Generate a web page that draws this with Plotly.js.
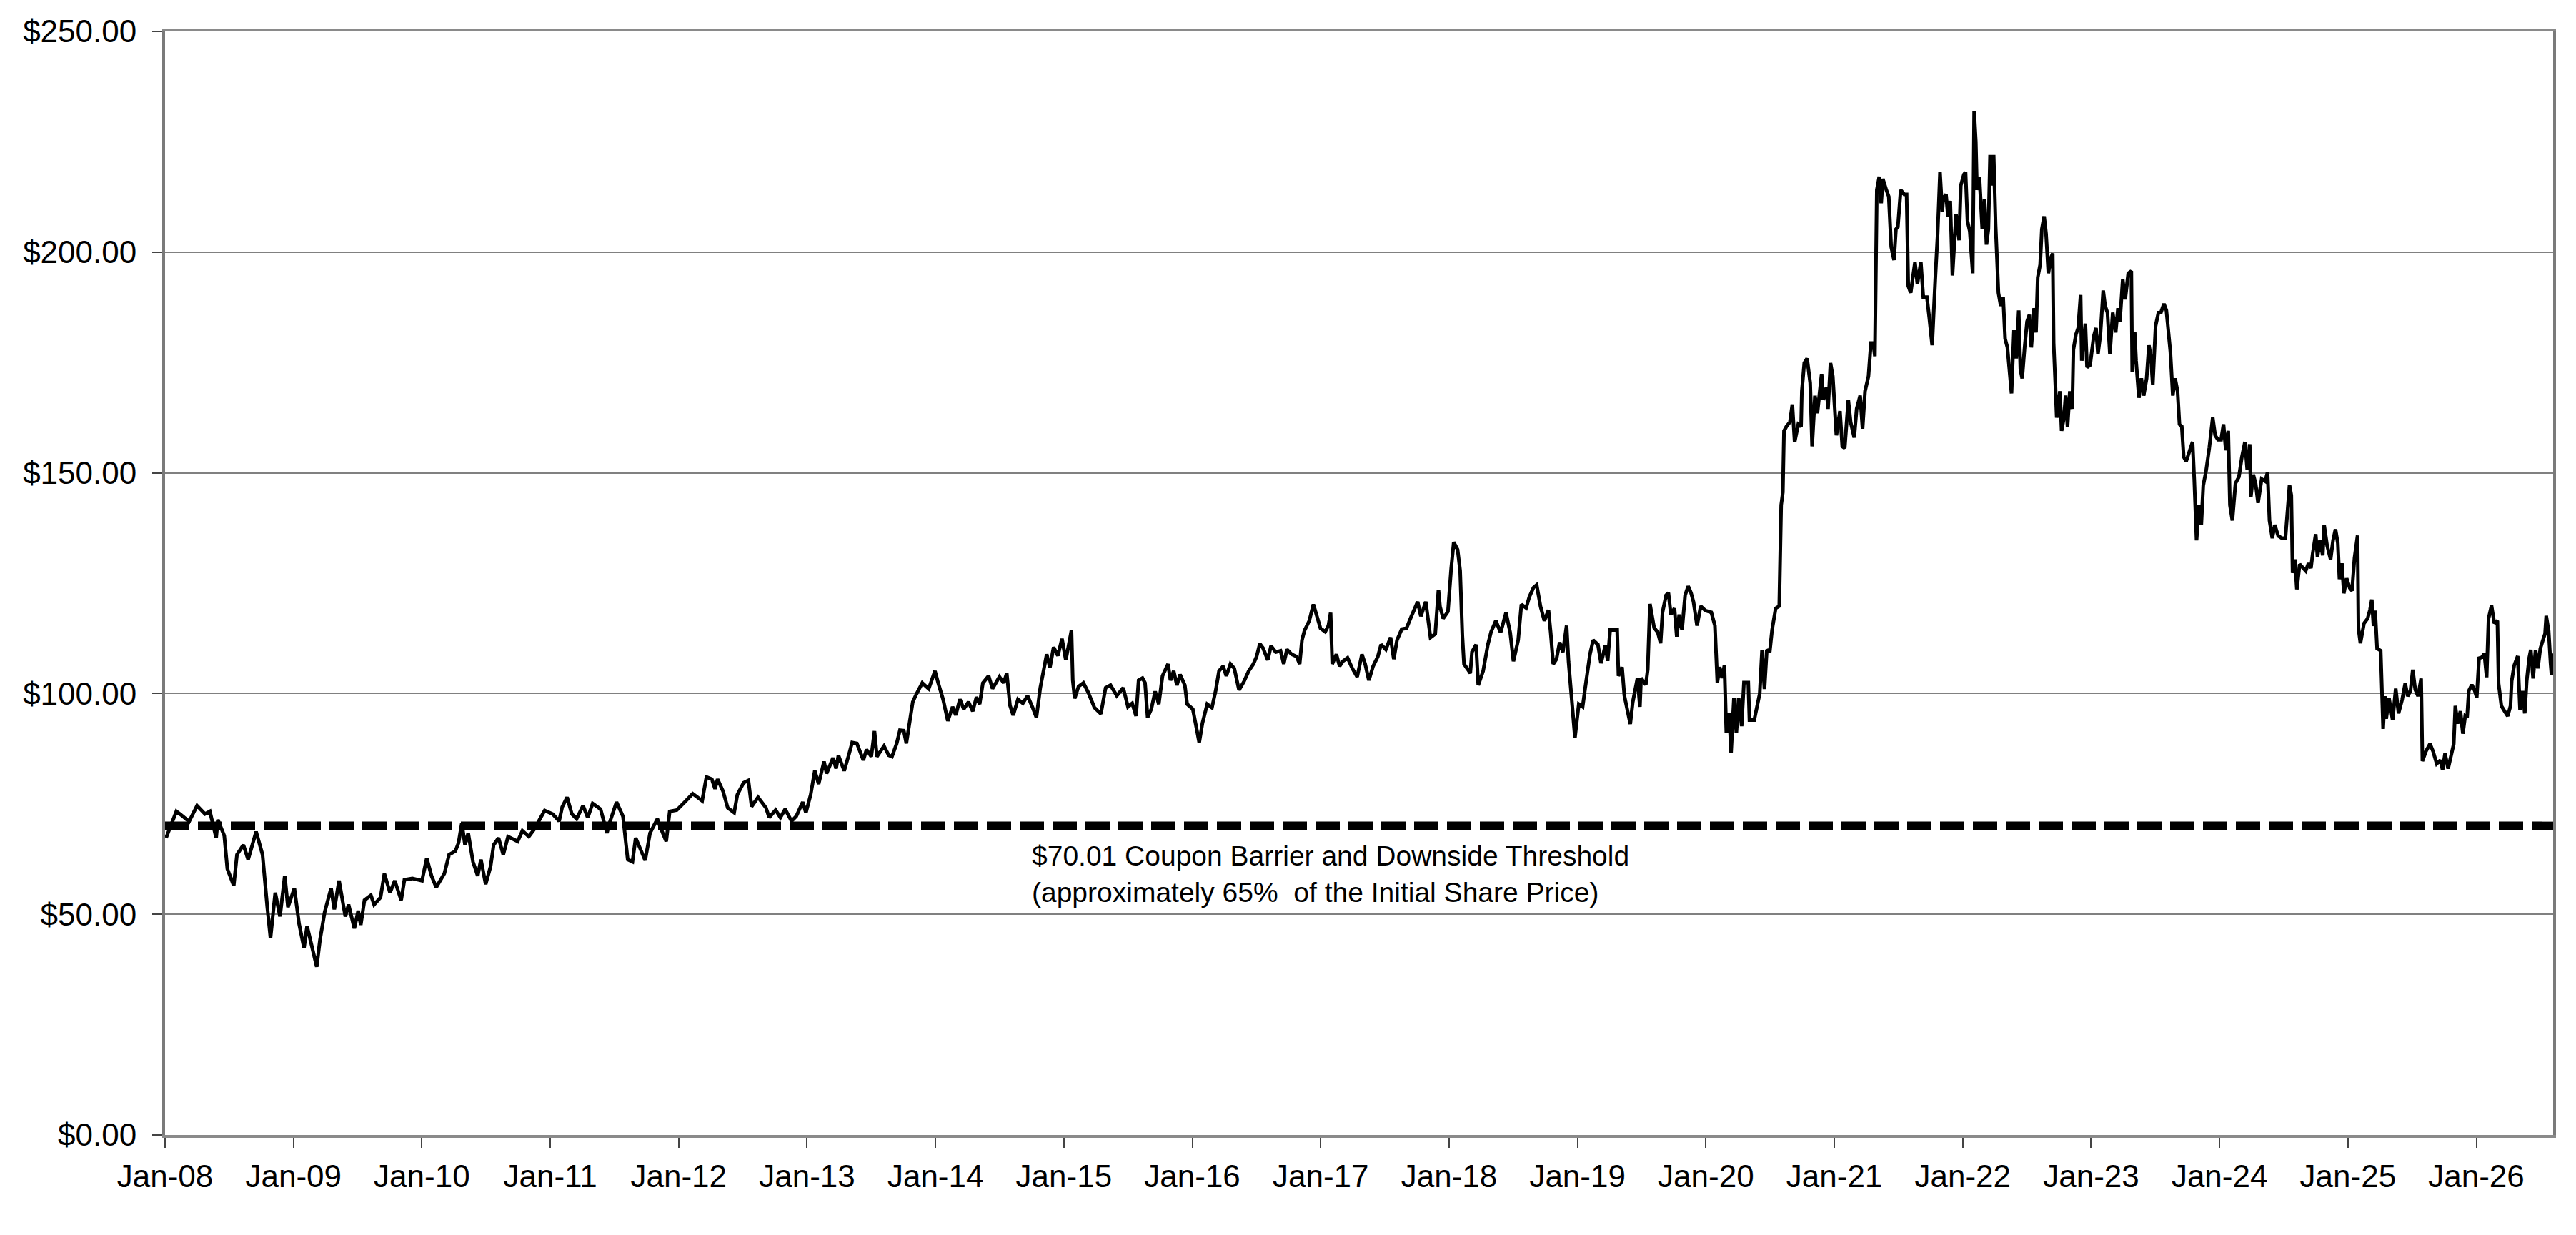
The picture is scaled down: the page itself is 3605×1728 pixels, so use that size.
<!DOCTYPE html>
<html>
<head>
<meta charset="utf-8">
<script src="https://cdn.plot.ly/plotly-3.0.1.min.js"></script>
<style>
    body { margin: 0; background: #ffffff; }
</style>
</head>
<body>
<div id="grafico"></div>
<script>
// Fechas (en años decimales)
let fechas = [
    2008.008, 2008.038, 2008.088, 2008.138, 2008.187, 2008.249, 2008.311, 2008.349, 2008.398, 2008.411,
    2008.461, 2008.485, 2008.535, 2008.560, 2008.610, 2008.647, 2008.709, 2008.759, 2008.771, 2008.796,
    2008.821, 2008.858, 2008.895, 2008.932, 2008.957, 2009.007, 2009.044, 2009.082, 2009.106, 2009.156,
    2009.181, 2009.206, 2009.243, 2009.293, 2009.318, 2009.355, 2009.404, 2009.429, 2009.474, 2009.504,
    2009.524, 2009.553, 2009.603, 2009.628, 2009.678, 2009.708, 2009.752, 2009.789, 2009.839, 2009.864,
    2009.926, 2010.001, 2010.038, 2010.075, 2010.112, 2010.175, 2010.212, 2010.261, 2010.286, 2010.311,
    2010.336, 2010.361, 2010.398, 2010.435, 2010.460, 2010.497, 2010.535, 2010.559, 2010.597, 2010.634,
    2010.671, 2010.746, 2010.783, 2010.833, 2010.882, 2010.920, 2010.957, 2011.019, 2011.069, 2011.093,
    2011.131, 2011.168, 2011.205, 2011.255, 2011.292, 2011.330, 2011.392, 2011.441, 2011.466, 2011.516,
    2011.566, 2011.603, 2011.640, 2011.665, 2011.702, 2011.739, 2011.777, 2011.834,
    2011.860, 2011.903, 2011.930, 2011.985, 2012.047, 2012.109, 2012.146, 2012.183, 2012.216, 2012.258,
    2012.283, 2012.303, 2012.345, 2012.382, 2012.432, 2012.457, 2012.506, 2012.543, 2012.568, 2012.618,
    2012.680, 2012.705, 2012.755, 2012.792, 2012.829, 2012.879, 2012.916, 2012.966, 2012.991, 2013.028,
    2013.060, 2013.090, 2013.132, 2013.152, 2013.202, 2013.226, 2013.244, 2013.289, 2013.326, 2013.351,
    2013.388, 2013.438, 2013.463, 2013.500, 2013.525, 2013.544, 2013.599, 2013.636, 2013.661, 2013.698,
    2013.723, 2013.753, 2013.773, 2013.798, 2013.823, 2013.848, 2013.897, 2013.947, 2013.996, 2014.021,
    2014.059, 2014.096, 2014.133, 2014.158, 2014.190, 2014.220, 2014.257, 2014.290, 2014.319, 2014.344,
    2014.369, 2014.414, 2014.444, 2014.498, 2014.531, 2014.555, 2014.580, 2014.605, 2014.642, 2014.680,
    2014.717, 2014.754, 2014.786, 2014.816, 2014.841, 2014.866, 2014.891, 2014.920, 2014.953, 2014.985,
    2015.015, 2015.035, 2015.059, 2015.069, 2015.084, 2015.114, 2015.152, 2015.189, 2015.238, 2015.288,
    2015.325, 2015.363, 2015.412, 2015.462, 2015.499,
    2015.532, 2015.562, 2015.582, 2015.612, 2015.632, 2015.652, 2015.681, 2015.711, 2015.739, 2015.768,
    2015.811, 2015.830, 2015.855, 2015.880, 2015.905, 2015.942, 2015.960, 2016.004, 2016.029, 2016.054,
    2016.079, 2016.116, 2016.153, 2016.183, 2016.208, 2016.240, 2016.265, 2016.297, 2016.327, 2016.364,
    2016.402, 2016.439, 2016.476, 2016.501, 2016.526, 2016.551, 2016.588, 2016.613, 2016.650, 2016.687,
    2016.712, 2016.737, 2016.774, 2016.812, 2016.836, 2016.854, 2016.874, 2016.911, 2016.943, 2016.968,
    2016.998, 2017.035, 2017.060, 2017.077, 2017.090, 2017.122, 2017.147, 2017.172, 2017.209, 2017.246,
    2017.284, 2017.321, 2017.346, 2017.375, 2017.408, 2017.445, 2017.470, 2017.507, 2017.544, 2017.569,
    2017.594, 2017.631, 2017.668, 2017.706, 2017.755, 2017.780, 2017.818, 2017.855, 2017.892, 2017.917,
    2017.929, 2017.954, 2017.991, 2018.016, 2018.036, 2018.066, 2018.086, 2018.103, 2018.116, 2018.140,
    2018.165, 2018.178, 2018.210, 2018.227, 2018.265, 2018.302, 2018.327, 2018.364, 2018.401, 2018.443,
    2018.476, 2018.501, 2018.538, 2018.563, 2018.600, 2018.625, 2018.657, 2018.682, 2018.712, 2018.742,
    2018.774, 2018.791, 2018.811, 2018.836, 2018.861, 2018.886, 2018.915, 2018.930, 2018.955, 2018.980,
    2019.010, 2019.040, 2019.060, 2019.097, 2019.122, 2019.159,
    2019.183, 2019.217, 2019.235, 2019.254, 2019.309, 2019.319, 2019.347, 2019.365, 2019.411, 2019.430,
    2019.467, 2019.486, 2019.495, 2019.532, 2019.547, 2019.564, 2019.597, 2019.625, 2019.647, 2019.662,
    2019.690, 2019.708, 2019.727, 2019.755, 2019.773, 2019.792, 2019.814, 2019.838, 2019.862, 2019.884,
    2019.903, 2019.931, 2019.959, 2019.996, 2020.042, 2020.070, 2020.089, 2020.107, 2020.126, 2020.144,
    2020.159, 2020.181, 2020.196, 2020.218, 2020.237, 2020.255, 2020.278, 2020.296, 2020.330, 2020.339,
    2020.376, 2020.395, 2020.419, 2020.437, 2020.456, 2020.474, 2020.497, 2020.515, 2020.543, 2020.571,
    2020.586, 2020.599, 2020.608, 2020.627, 2020.654, 2020.673, 2020.691, 2020.719, 2020.741, 2020.747,
    2020.766, 2020.788, 2020.812, 2020.827, 2020.849, 2020.868, 2020.901, 2020.914, 2020.938, 2020.951,
    2020.970, 2020.988, 2021.016, 2021.044, 2021.062, 2021.081, 2021.109, 2021.127, 2021.155, 2021.174,
    2021.201, 2021.220, 2021.239, 2021.266, 2021.285, 2021.303, 2021.316, 2021.331, 2021.350, 2021.365,
    2021.378, 2021.405, 2021.424, 2021.443, 2021.465, 2021.480, 2021.495, 2021.517, 2021.545, 2021.563,
    2021.576, 2021.595, 2021.628, 2021.647, 2021.674, 2021.693, 2021.721, 2021.739, 2021.762, 2021.786,
    2021.804, 2021.823, 2021.841,
    2021.848, 2021.870, 2021.885, 2021.903, 2021.920, 2021.935, 2021.948, 2021.972, 2021.985, 2022.009,
    2022.022, 2022.037, 2022.055, 2022.078, 2022.089, 2022.102, 2022.111, 2022.130, 2022.152, 2022.170,
    2022.185, 2022.200, 2022.213, 2022.226, 2022.241, 2022.256, 2022.278, 2022.296, 2022.315, 2022.330,
    2022.348, 2022.380, 2022.399, 2022.417, 2022.436, 2022.449, 2022.463, 2022.482, 2022.501, 2022.519,
    2022.534, 2022.556, 2022.571, 2022.584, 2022.603, 2022.616, 2022.634, 2022.649, 2022.667, 2022.686,
    2022.701, 2022.708, 2022.732, 2022.757, 2022.770, 2022.788, 2022.801, 2022.816, 2022.834, 2022.853,
    2022.862, 2022.881, 2022.899, 2022.918, 2022.927, 2022.955, 2022.968, 2022.992, 2023.020, 2023.038,
    2023.053, 2023.072, 2023.094, 2023.109, 2023.127, 2023.146, 2023.168, 2023.191, 2023.209, 2023.224,
    2023.246, 2023.265, 2023.289, 2023.313, 2023.320, 2023.339, 2023.350, 2023.372, 2023.391, 2023.409,
    2023.432, 2023.450, 2023.465, 2023.480, 2023.502, 2023.524, 2023.543, 2023.567, 2023.586, 2023.604,
    2023.617, 2023.636, 2023.654, 2023.673, 2023.688, 2023.706, 2023.721, 2023.740, 2023.762, 2023.790,
    2023.803, 2023.821, 2023.840, 2023.858, 2023.873, 2023.896, 2023.920, 2023.947, 2023.966, 2023.988,
    2024.012, 2024.031, 2024.049, 2024.068, 2024.081, 2024.100, 2024.124, 2024.151, 2024.174, 2024.198,
    2024.216, 2024.235, 2024.244, 2024.263, 2024.281, 2024.300, 2024.328, 2024.355, 2024.374, 2024.389,
    2024.411, 2024.430, 2024.457, 2024.485, 2024.513,
    2024.532, 2024.545, 2024.559, 2024.569, 2024.587, 2024.602, 2024.624, 2024.648, 2024.671, 2024.693,
    2024.712, 2024.726, 2024.749, 2024.763, 2024.782, 2024.804, 2024.815, 2024.838, 2024.865, 2024.884,
    2024.903, 2024.921, 2024.934, 2024.953, 2024.968, 2024.990, 2025.014, 2025.032, 2025.051, 2025.075,
    2025.082, 2025.097, 2025.125, 2025.153, 2025.172, 2025.186, 2025.199, 2025.212, 2025.227, 2025.255,
    2025.264, 2025.274, 2025.287, 2025.298, 2025.320, 2025.348, 2025.372, 2025.394, 2025.422, 2025.446,
    2025.465, 2025.487, 2025.505, 2025.524, 2025.546, 2025.570, 2025.580, 2025.607, 2025.639, 2025.663,
    2025.691, 2025.719, 2025.737, 2025.756, 2025.780, 2025.806, 2025.824, 2025.836, 2025.854, 2025.876,
    2025.895, 2025.913, 2025.928, 2025.941, 2025.965, 2025.988, 2026.003, 2026.021, 2026.043, 2026.062,
    2026.080, 2026.095, 2026.118, 2026.140, 2026.164, 2026.173, 2026.195, 2026.220, 2026.244, 2026.266,
    2026.275, 2026.294, 2026.322, 2026.340, 2026.359, 2026.377, 2026.392, 2026.411, 2026.424, 2026.442,
    2026.461, 2026.479, 2026.498, 2026.516, 2026.535, 2026.544, 2026.563, 2026.578, 2026.585, 2026.596
];

// Precio de cierre de la acción (USD)
let precios = [
    67.3, 69.5, 73.3, 72.2, 71.0, 74.6, 72.7, 73.3, 67.3, 71.4,
    67.8, 60.3, 56.5, 63.5, 65.7, 62.4, 68.7, 63.5, 59.2, 51.6,
    44.6, 54.9, 49.5, 58.7, 51.6, 55.9, 47.8, 42.4, 47.3, 41.3,
    38.1, 44.1, 50.5, 55.9, 51.1, 57.6, 49.5, 52.2, 46.8, 50.8,
    47.6, 53.2, 54.3, 52.2, 53.8, 59.2, 54.9, 57.6, 53.2, 57.8,
    58.1, 57.6, 62.7, 58.7, 56.1, 59.2, 63.5, 64.3, 66.2, 70.6,
    65.7, 68.4, 61.9, 58.7, 62.4, 56.8, 60.8, 65.7, 67.3, 63.5,
    67.6, 66.5, 68.9, 67.6, 69.5, 71.6, 73.5, 72.7, 71.1, 74.3,
    76.5, 72.7, 71.6, 74.6, 71.9, 75.1, 73.8, 68.4, 71.1, 75.4,
    72.2, 62.4, 61.9, 67.3, 64.6, 62.2, 68.4, 71.6,
    69.5, 66.5, 73.3, 73.6, 75.4, 77.3, 76.5, 75.7, 81.1, 80.6,
    78.4, 80.6, 77.9, 74.1, 73.0, 77.1, 79.8, 80.3, 74.4, 76.5,
    74.1, 71.9, 73.6, 71.9, 73.8, 71.1, 72.2, 75.4, 73.0, 77.1,
    82.5, 79.5, 84.6, 81.9, 85.4, 83.0, 86.0, 82.5, 86.2, 88.9,
    88.7, 84.9, 87.3, 85.7, 91.5, 85.7, 88.1, 86.0, 85.7, 88.7,
    91.7, 91.6, 88.7, 93.3, 98.1, 99.7, 102.4, 101.1, 105.1, 102.4,
    98.7, 93.8, 97.0, 95.1, 98.7, 96.5, 98.1, 96.0, 99.2, 97.6,
    102.4, 104.0, 101.1, 103.8, 102.4, 104.6, 97.3, 95.1, 98.7, 97.8,
    99.5, 97.0, 94.6, 101.3, 105.1, 108.9, 105.9, 110.5, 108.6, 112.4,
    107.6, 110.5, 114.3, 103.0, 98.9, 101.6, 102.4, 100.3, 96.8, 95.4,
    101.3, 101.9, 99.5, 101.3, 97.0,
    97.8, 94.9, 103.0, 103.5, 102.4, 94.6, 96.5, 100.5, 97.6, 104.0,
    106.7, 103.0, 105.1, 101.9, 104.3, 101.9, 97.6, 96.5, 92.7, 88.9,
    93.3, 97.6, 96.8, 100.8, 105.1, 106.2, 104.0, 106.7, 105.7, 100.8,
    102.7, 105.1, 106.7, 108.4, 111.3, 110.3, 107.6, 110.8, 109.4, 109.7,
    106.7, 110.0, 108.9, 108.4, 106.7, 112.1, 114.3, 116.5, 120.2, 117.5,
    114.8, 114.0, 115.4, 118.3, 106.7, 108.9, 106.2, 107.3, 108.1, 105.7,
    103.8, 108.9, 106.7, 103.0, 106.2, 108.4, 111.1, 110.0, 112.7, 107.8,
    112.1, 114.6, 114.8, 117.5, 120.8, 117.5, 120.8, 112.7, 113.5, 123.5,
    119.7, 117.0, 118.6, 128.3, 134.3, 132.6, 127.8, 113.2, 106.7, 105.7,
    104.6, 109.4, 111.1, 101.9, 105.1, 111.1, 114.0, 116.5, 113.8, 118.3,
    113.8, 107.3, 112.1, 120.2, 119.4, 121.9, 124.0, 124.6, 119.7, 116.5,
    118.9, 113.8, 106.7, 107.8, 111.6, 109.4, 115.4, 107.3, 98.1, 90.0,
    97.6, 97.0, 101.3, 108.9, 112.1, 111.1,
    106.9, 110.9, 107.4, 114.4, 114.4, 104.0, 106.0, 99.5, 93.1, 98.0,
    103.5, 97.0, 103.5, 102.0, 105.5, 120.3, 114.9, 113.9, 111.4, 118.4,
    122.3, 122.8, 117.9, 119.3, 112.9, 117.9, 114.4, 122.3, 124.3, 122.8,
    120.8, 115.4, 119.8, 118.8, 118.4, 115.4, 102.5, 106.0, 103.5, 106.4,
    91.1, 95.5, 86.6, 99.0, 91.1, 99.0, 92.6, 102.5, 102.5, 94.0,
    94.0, 97.0, 100.0, 109.9, 101.0, 109.9, 109.4, 114.4, 119.3, 119.8,
    142.7, 145.6, 159.5, 160.5, 161.5, 165.5, 157.0, 161.0, 160.5, 168.5,
    174.9, 175.9, 170.4, 156.0, 167.5, 163.5, 172.4, 166.5, 169.4, 164.5,
    174.9, 171.9, 158.5, 164.0, 156.0, 155.6, 166.5, 161.5, 158.0, 164.5,
    167.5, 160.0, 168.5, 171.9, 179.4, 179.4, 176.4, 214.1, 217.1, 211.1,
    216.6, 214.1, 212.6, 201.2, 198.2, 205.2, 205.7, 214.1, 213.1, 213.1,
    192.3, 190.8, 197.7, 192.8, 197.7, 189.8, 189.8, 185.3, 178.9, 193.8,
    203.7, 218.1, 209.1,
    212.1, 213.1, 208.1, 211.6, 194.7, 203.2, 208.6, 202.7, 215.1, 217.6,
    218.1, 207.1, 204.7, 195.2, 231.9, 225.0, 214.1, 217.1, 205.2, 212.1,
    201.7, 205.2, 222.0, 215.1, 222.0, 206.2, 190.8, 187.8, 189.8, 180.4,
    178.4, 168.0, 182.3, 175.9, 186.8, 173.4, 171.4, 178.4, 184.3, 185.8,
    178.4, 187.3, 181.8, 194.2, 197.2, 205.2, 208.1, 204.2, 195.2, 198.7,
    199.7, 179.4, 162.5, 168.5, 159.5, 162.5, 167.5, 160.5, 168.5, 164.5,
    177.9, 181.3, 182.8, 190.3, 175.4, 183.8, 173.9, 174.4, 180.9, 182.8,
    176.9, 181.3, 191.3, 187.8, 186.3, 176.9, 186.3, 181.8, 187.3, 184.3,
    193.8, 189.3, 195.2, 195.7, 172.9, 181.8, 175.4, 167.0, 171.4, 167.5,
    171.4, 178.9, 176.4, 169.9, 183.3, 186.3, 186.3, 188.3, 186.8, 181.3,
    177.4, 167.5, 171.4, 168.5, 161.0, 160.5, 153.6, 152.6, 154.6, 157.0,
    148.6, 134.7, 142.7, 138.2, 147.1, 150.6, 155.6, 162.5, 158.5, 157.5,
    157.5, 161.0, 155.1, 159.5, 142.7, 139.2, 147.6, 149.1, 153.6, 157.0,
    150.6, 156.5, 144.6, 149.6, 147.6, 143.2, 148.6, 148.1, 150.1, 139.2,
    135.2, 138.2, 135.7, 135.2, 135.2,
    143.2, 147.2, 144.9, 127.3, 130.4, 123.6, 129.3, 128.4, 127.8, 129.5,
    128.4, 131.8, 136.1, 131.0, 134.7, 131.3, 138.1, 133.5, 130.4, 134.7,
    137.2, 134.1, 125.9, 129.5, 122.7, 126.1, 123.9, 123.3, 130.7, 135.8,
    114.8, 111.4, 115.9, 117.0, 119.0, 121.3, 115.3, 118.8, 110.2, 109.7,
    97.2, 92.0, 99.4, 94.3, 98.9, 94.0, 101.1, 95.5, 98.6, 102.3,
    99.4, 100.6, 105.4, 100.9, 99.4, 103.4, 84.7, 86.9, 88.6, 86.9,
    84.1, 84.9, 82.7, 86.4, 83.0, 86.9, 88.6, 97.2, 93.2, 96.0,
    90.9, 94.9, 94.6, 100.6, 102.0, 100.6, 99.1, 108.0, 108.2, 109.1,
    103.7, 117.0, 119.9, 115.9, 116.5, 102.3, 97.2, 96.0, 94.9, 97.2,
    102.8, 106.3, 108.5, 96.3, 100.6, 95.5, 102.8, 108.0, 109.9, 103.4,
    109.9, 105.7, 110.2, 111.9, 113.6, 117.6, 114.2, 106.8, 104.3, 109.1
];

// Eje X: años con marca y sus etiquetas
let anios = [2008, 2009, 2010, 2011, 2012, 2013, 2014, 2015, 2016, 2017,
             2018, 2019, 2020, 2021, 2022, 2023, 2024, 2025, 2026];
let etiquetasAnios = ['Jan-08', 'Jan-09', 'Jan-10', 'Jan-11', 'Jan-12', 'Jan-13', 'Jan-14',
                      'Jan-15', 'Jan-16', 'Jan-17', 'Jan-18', 'Jan-19', 'Jan-20', 'Jan-21',
                      'Jan-22', 'Jan-23', 'Jan-24', 'Jan-25', 'Jan-26'];
let rangoX = [2008, 2026.598];

// Eje Y: valores y etiquetas
let marcasY = [0, 50, 100, 150, 200, 250];
let etiquetasY = ['$0.00', '$50.00', '$100.00', '$150.00', '$200.00', '$250.00'];

// Barrera de cupón / umbral
let barrera = 70.01;
let textoBarrera = '$70.01 Coupon Barrier and Downside Threshold<br>(approximately 65%\u00a0 of the Initial Share Price)';

let fuente = 'Liberation Sans, Arial, sans-serif';

var trazaBarrera = {
    x: rangoX,
    y: [barrera, barrera],
    type: 'scatter',
    mode: 'lines',
    line: { color: '#000000', width: 12, dash: '34px,12px' },
    hoverinfo: 'skip',
    showlegend: false
};

var trazaPrecio = {
    x: fechas,
    y: precios,
    type: 'scatter',
    mode: 'lines',
    line: { color: '#000000', width: 5 },
    hoverinfo: 'skip',
    showlegend: false
};

var layout = {
    width: 3605,
    height: 1728,
    margin: { l: 231, r: 32, t: 44, b: 140 },
    paper_bgcolor: '#ffffff',
    plot_bgcolor: '#ffffff',
    font: { family: fuente, size: 44, color: '#000000' },
    xaxis: {
        type: 'linear',
        range: rangoX,
        tickmode: 'array',
        tickvals: anios,
        ticktext: etiquetasAnios,
        ticks: 'outside',
        ticklen: 14,
        tickwidth: 2,
        tickcolor: '#444444',
        ticklabelstandoff: 2,
        showgrid: false,
        zeroline: false,
        showline: true,
        mirror: true,
        linecolor: '#8a8a8a',
        linewidth: 4,
        tickfont: { family: fuente, size: 44, color: '#000000' }
    },
    yaxis: {
        range: [0, 250],
        tickmode: 'array',
        tickvals: marcasY,
        ticktext: etiquetasY,
        ticks: 'outside',
        ticklen: 14,
        tickwidth: 2,
        tickcolor: '#444444',
        ticklabelstandoff: 13,
        showgrid: true,
        gridcolor: '#808080',
        gridwidth: 2,
        zeroline: false,
        showline: true,
        mirror: true,
        linecolor: '#7a7a7a',
        linewidth: 4,
        tickfont: { family: fuente, size: 44, color: '#000000' }
    },
    annotations: [{
        x: 2014.739,
        y: 59.1,
        xref: 'x',
        yref: 'y',
        text: textoBarrera,
        showarrow: false,
        xanchor: 'left',
        yanchor: 'middle',
        align: 'left',
        font: { family: fuente, size: 39, color: '#000000' }
    }]
};

Plotly.newPlot('grafico', [trazaBarrera, trazaPrecio], layout, { staticPlot: true, displayModeBar: false });
</script>
</body>
</html>
